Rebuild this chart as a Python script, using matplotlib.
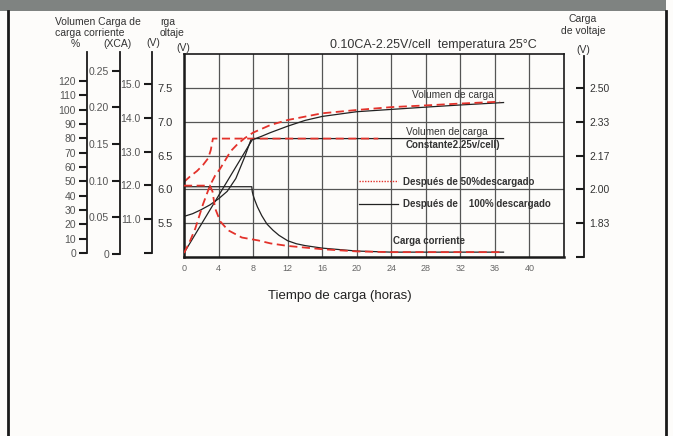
import numpy as np
import matplotlib.pyplot as plt
from matplotlib.lines import Line2D
from matplotlib.patches import Rectangle

plt.rcParams['font.family'] = ['Liberation Sans', 'DejaVu Sans']

W, H = 673, 436

# ---- datos ----
# 100% descargado (negro)
t_vol100 = [0, 2, 4, 6, 7.9, 9, 10, 12, 14, 16, 20, 24, 28, 32, 37]
vol100 = [0, 20, 40, 60, 79, 81.5, 84, 88.5, 92.5, 95.3, 98.6, 100.2, 101.8, 103.3, 105]
t_volt100 = [0, 1, 2, 3, 4, 5, 6, 7, 7.8, 37]
volt100 = [5.60, 5.64, 5.70, 5.77, 5.86, 5.97, 6.16, 6.47, 6.75, 6.75]
t_cur100 = [0, 7.85, 7.9, 8.0, 8.2, 8.5, 9.0, 9.6, 10.3, 11, 12, 13, 14, 16, 20, 24, 37]
cur100 = [0.0915, 0.0915, 0.085, 0.080, 0.073, 0.064, 0.052, 0.0405, 0.032, 0.025, 0.0176,
          0.0135, 0.011, 0.0075, 0.0035, 0.002, 0.002]

# 50% descargado (rojo)
t_vol50 = [0, 0.6, 1.3, 2.2, 3.0, 3.6, 4.2, 4.8, 5.4, 6.2, 7, 8, 10, 12, 16, 20, 24, 28, 32, 36.6]
vol50 = [0, 7, 17, 34, 47, 54, 59, 65, 71, 76, 80, 84, 89.3, 92.8, 97.5, 99.8, 101.8, 103, 104.3, 105.6]
t_volt50 = [0, 0.7, 1.5, 2.2, 2.8, 3.1, 3.35, 22.5]
volt50 = [6.11, 6.19, 6.27, 6.36, 6.46, 6.58, 6.75, 6.75]
t_cur50 = [0, 3.0, 3.3, 3.6, 4.2, 5.1, 6.7, 8.6, 10, 12, 16, 20, 24, 37]
cur50 = [0.093, 0.093, 0.085, 0.062, 0.044, 0.032, 0.022, 0.018, 0.014, 0.0105, 0.006, 0.003, 0.002, 0.002]

hours = list(range(0, 41, 4))
volt_ticks = [5.5, 6.0, 6.5, 7.0, 7.5]
pct_ticks = list(range(0, 121, 10))
ca_ticks = [0, 0.05, 0.10, 0.15, 0.20, 0.25]
ca_labels = ['0', '0.05', '0.10', '0.15', '0.20', '0.25']
v12_ticks = [10, 11, 12, 13, 14, 15]
v12_labels = ['', '11.0', '12.0', '13.0', '14.0', '15.0']
cell_ticks = [5 / 3, 5.5 / 3, 6 / 3, 6.5 / 3, 7 / 3, 7.5 / 3]
cell_labels = ['', '1.83', '2.00', '2.17', '2.33', '2.50']

RED = '#e3322b'
BLK = '#222222'
TXT = '#333333'


def box(l, t, r, b):
    return [l / W, 1 - b / H, (r - l) / W, (b - t) / H]


def ftext(x, y, s, **kw):
    kw.setdefault('fontsize', 7.5)
    kw.setdefault('color', TXT)
    kw.setdefault('va', 'center')
    fig.text(x / W, 1 - y / H, s, **kw)


fig = plt.figure(figsize=(W / 100, H / 100), dpi=100)
fig.patch.set_facecolor('#fdfcfa')

# cabecera gris y marco
fig.patches.append(Rectangle((0, 1 - 11 / H), 666 / W, 11 / H, transform=fig.transFigure,
                             facecolor='#7f8381', edgecolor='none'))
fig.add_artist(Line2D([8 / W, 8 / W], [0, 1 - 11 / H], color='#1a1a1a', lw=2))
fig.add_artist(Line2D([666 / W, 666 / W], [0, 1 - 11 / H], color='#1a1a1a', lw=2))

# ---- eje principal (V) ----
ax = fig.add_axes(box(184, 54, 564, 257))
ax.set_facecolor('none')
ax.set_xlim(0, 44)
ax.set_ylim(5, 8)
ax.set_xticks(hours)
ax.set_yticks(volt_ticks)
ax.set_yticklabels(['%.1f' % v for v in volt_ticks])
ax.grid(True, color='#555555', lw=0.9)
ax.tick_params(length=0, labelsize=8, colors=TXT, pad=8)
ax.tick_params(axis='x', labelsize=6.5, colors='#666666', pad=5)
for s in ['left', 'bottom']:
    ax.spines[s].set_linewidth(1.8)
for s in ['top', 'right']:
    ax.spines[s].set_linewidth(1.2)
for s in ax.spines.values():
    s.set_color('#1a1a1a')

# ejes superpuestos para % y CA
ax_pct = fig.add_axes(box(184, 54, 564, 257), sharex=ax)
ax_pct.set_ylim((253 - 257) / 1.433, (253 - 54) / 1.433)
ax_pct.axis('off')
ax_ca = fig.add_axes(box(184, 54, 564, 257), sharex=ax)
ax_ca.set_ylim((253.6 - 257) / 730.9, (253.6 - 54) / 730.9)
ax_ca.axis('off')

dash = (0, (4.5, 2.5))
ax_pct.plot(t_vol100, vol100, color=BLK, lw=0.9)
ax.plot(t_volt100, volt100, color=BLK, lw=0.9)
ax_ca.plot(t_cur100, cur100, color=BLK, lw=0.9)
ax_pct.plot(t_vol50, vol50, color=RED, lw=1.3, ls=dash)
ax.plot(t_volt50, volt50, color=RED, lw=1.3, ls=dash)
ax_ca.plot(t_cur50, cur50, color=RED, lw=1.3, ls=dash)

ax.text(26.4, 7.39, 'Volumen de carga', fontsize=7.3, color=TXT, va='center')
ax.text(25.7, 6.85, 'Volumen de carga', fontsize=7.3, color=TXT, va='center')
ax.text(25.7, 6.66, 'Constante2.25v/cell)', fontsize=7, color=TXT, va='center', fontweight='bold')
ax.text(24.2, 5.24, 'Carga corriente', fontsize=7, color=TXT, va='center', fontweight='bold')

handles = [Line2D([], [], color=RED, lw=1.0, ls=(0, (1, 1))),
           Line2D([], [], color=BLK, lw=0.9)]
leg = ax.legend(handles, ['Después de 50%descargado', 'Después de    100% descargado'],
                loc='upper left', bbox_to_anchor=(354 / W, 1 - 172 / H),
                bbox_transform=fig.transFigure, frameon=False, borderpad=0,
                handlelength=4.0, handletextpad=0.5, labelspacing=1.25,
                prop={'size': 7, 'weight': 'bold'})
for txt in leg.get_texts():
    txt.set_color(TXT)


# ---- escalas de la izquierda ----
def scale_axis(x, top, bot, lo, hi, ticks, labels, side='left'):
    a = fig.add_axes(box(x, top, x + 1, bot))
    a.set_facecolor('none')
    a.set_ylim(lo, hi)
    a.set_xticks([])
    a.set_yticks(ticks)
    a.set_yticklabels(labels)
    for s in a.spines.values():
        s.set_visible(False)
    a.spines[side].set_visible(True)
    a.spines[side].set_linewidth(1.3)
    a.spines[side].set_color('#1a1a1a')
    if side == 'right':
        a.yaxis.tick_right()
        a.tick_params(axis='y', direction='in', length=6, width=1.5, pad=4,
                      labelsize=7.5, colors='#1a1a1a', labelcolor=TXT)
    else:
        a.tick_params(axis='y', direction='out', length=6, width=1.5, pad=2,
                      labelsize=7.5, colors='#1a1a1a', labelcolor='#555555')
    return a


scale_axis(87, 52, 253, 0, (253 - 52) / 1.433, pct_ticks, [str(p) for p in pct_ticks])
scale_axis(120, 52, 253.6, 0, (253.6 - 52) / 730.9, ca_ticks, ca_labels)
scale_axis(152, 52, 253, 10, 10 + (253 - 52) / 33.8, v12_ticks, v12_labels)
scale_axis(583, 56, 257, 5 / 3, 5 / 3 + (257 - 56) / 203.0, cell_ticks, cell_labels, side='right')

# ---- textos ----
ftext(55, 22, 'Volumen Carga de')
ftext(55, 33, 'carga corriente')
ftext(75, 44, '%', ha='center')
ftext(118, 44, '(XCA)', ha='center')
ftext(153, 43, '(V)', ha='center')
ftext(160, 22, 'rga')
ftext(160, 33, 'oltaje')
ftext(183, 48, '(V)', ha='center')
ftext(433, 45, '0.10CA-2.25V/cell  temperatura 25°C', ha='center', fontsize=9)
ftext(583, 19, 'Carga', ha='center')
ftext(583, 31, 'de voltaje', ha='center')
ftext(583, 50, '(V)', ha='center')
ftext(340, 296, 'Tiempo de carga (horas)', ha='center', fontsize=9.5, color='#222222')

fig.savefig('out.png', dpi=100, facecolor=fig.get_facecolor())
